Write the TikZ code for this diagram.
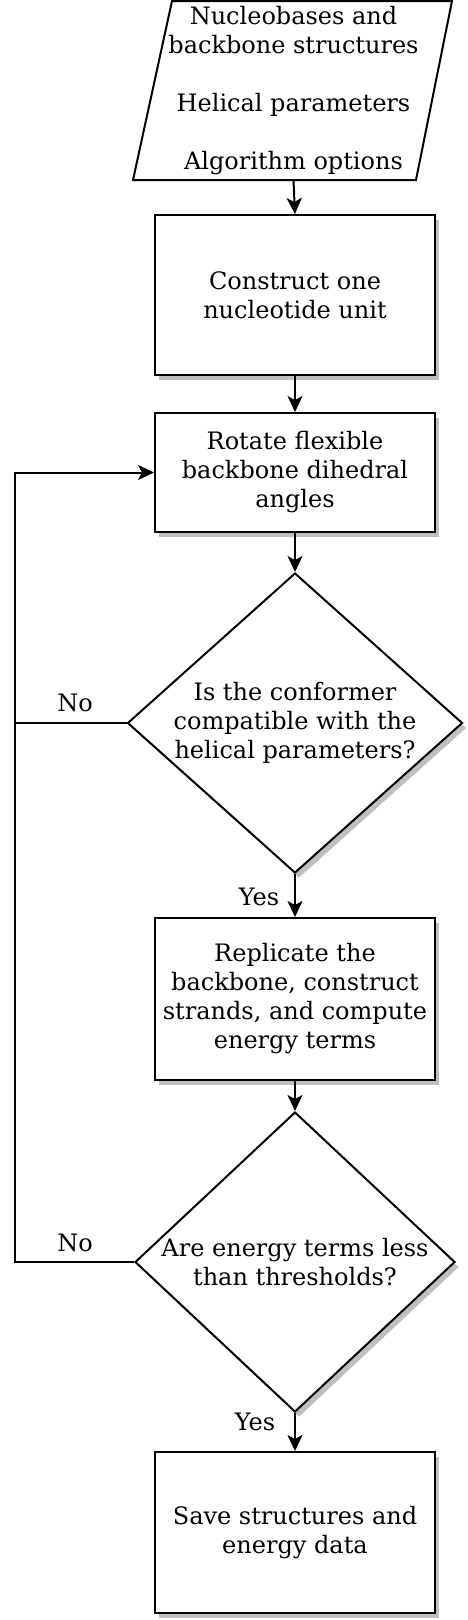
\documentclass[tikz,border=0pt]{standalone}
\usepackage{fontspec}
\setmainfont{DejaVu Serif}
\usetikzlibrary{arrows.meta,shadows,shapes.geometric}
\begin{document}
\begin{tikzpicture}[x=1pt,y=-1pt,
  every node/.style={font=\fontsize{24}{29}\selectfont, align=center},
  line/.style={line width=2pt, draw=black},
  arr/.style={line, -{Stealth[length=16pt,width=15pt,inset=4pt]}},
  shad/.style={drop shadow={shadow xshift=4pt, shadow yshift=-5pt, fill=black!25, opacity=1}},
  procbox/.style={line, fill=white, shad, minimum width=280pt, inner sep=0pt},
  dia/.style={diamond, line, fill=white, shad, inner sep=0pt, minimum width=#1, minimum height=300pt}
]
\useasboundingbox (0,0) rectangle (468,1620);
% input parallelogram
\draw[line, fill=white] (172,1) -- (452,1) -- (416,180) -- (133,180) -- cycle;
\node[minimum width=280pt, minimum height=179pt, inner sep=0pt] (in) at (293.5,90.5)
  {Nucleobases and\\backbone structures\\[29pt]Helical parameters\\[29pt]Algorithm options};
\node[procbox, minimum height=160pt] (b1) at (295,295) {Construct one\\nucleotide unit};
\node[procbox, minimum height=119pt] (b2) at (295,472.5) {Rotate flexible\\backbone dihedral\\angles};
\node[dia=335pt] (d1) at (295,723) {};
\node at (d1) {Is the conformer\\compatible with the\\helical parameters?};
\node[procbox, minimum height=162pt] (b3) at (295,999) {Replicate the\\backbone, construct\\strands, and compute\\energy terms};
\node[dia=320pt] (d2) at (295,1262) {};
\node at (d2) {Are energy terms less\\than thresholds?};
\node[procbox, minimum height=161pt] (b4) at (295,1532.5) {Save structures and\\energy data};
\coordinate (lft) at (15,0);

\draw[arr] (in.south) -- (b1.north);
\draw[arr] (b1) -- (b2);
\draw[arr] (b2) -- (d1.north);
\draw[arr] (d1.south) -- (b3.north);
\draw[arr] (b3) -- (d2.north);
\draw[arr] (d2.south) -- (b4.north);
\draw[arr] (d1.west) -- (d1.west -| lft) |- (b2.west);
\draw[line] (d2.west) -- (d2.west -| lft) -- (d1.west -| lft);

\node (no1) at (75,703) {No};
\node (no2) at (75,1243) {No};
\node (yes1) at (259,897) {Yes};
\node (yes2) at (255,1422) {Yes};
\end{tikzpicture}
\end{document}
